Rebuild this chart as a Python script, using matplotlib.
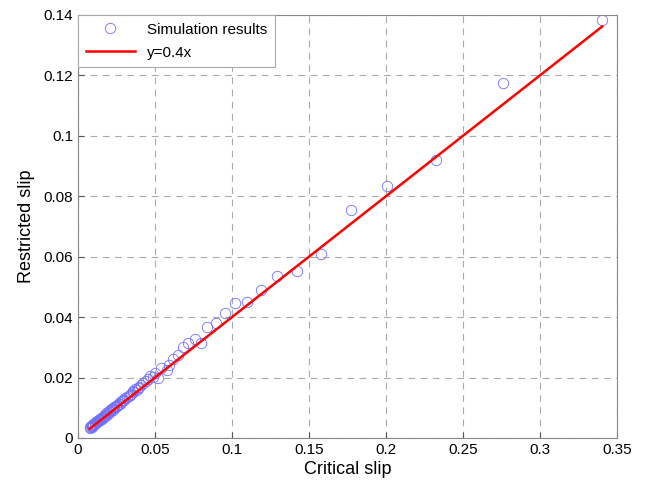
import matplotlib
matplotlib.use('Agg')
import numpy as np
import matplotlib.pyplot as plt

plt.rcParams['font.family'] = ['Liberation Sans', 'DejaVu Sans']

# simulation results
critical_slip = [0.0075, 0.0080, 0.0085, 0.0090, 0.0095, 0.0100, 0.0108, 0.0115, 0.0122,
                 0.0130, 0.0137, 0.0145, 0.0152, 0.0160, 0.0168, 0.0176, 0.0185, 0.0193,
                 0.0200, 0.0210, 0.0218, 0.0226, 0.0235, 0.0245, 0.0255, 0.0265, 0.0275,
                 0.0285, 0.0295, 0.0305, 0.0318, 0.0330, 0.0342, 0.0355, 0.0368, 0.0380,
                 0.0395, 0.0410, 0.0425, 0.0440, 0.0455, 0.0470, 0.0485, 0.0500, 0.0520,
                 0.0540, 0.0575, 0.0590, 0.0615, 0.0650, 0.0680, 0.0713, 0.0760, 0.0800,
                 0.0837, 0.0895, 0.0953, 0.1020, 0.1100, 0.1187, 0.1290, 0.1420, 0.1576,
                 0.1770, 0.2010, 0.2328, 0.2760, 0.3405,
                 0.0088, 0.0098, 0.0112, 0.0126, 0.0141, 0.0156, 0.0172, 0.0190, 0.0207,
                 0.0230, 0.0250, 0.0270, 0.0300, 0.0335, 0.0360, 0.0390]
restricted_slip = [0.0033, 0.0036, 0.0038, 0.0041, 0.0043, 0.0046, 0.0049, 0.0052, 0.0055,
                   0.0057, 0.0061, 0.0064, 0.0066, 0.0070, 0.0073, 0.0077, 0.0081, 0.0083,
                   0.0088, 0.0091, 0.0095, 0.0098, 0.0101, 0.0106, 0.0110, 0.0114, 0.0118,
                   0.0121, 0.0127, 0.0131, 0.0137, 0.0140, 0.0147, 0.0152, 0.0161, 0.0160,
                   0.0170, 0.0174, 0.0182, 0.0189, 0.0195, 0.0205, 0.0201, 0.0215, 0.0198,
                   0.0233, 0.0226, 0.0240, 0.0261, 0.0275, 0.0300, 0.0314, 0.0328, 0.0314,
                   0.0367, 0.0380, 0.0414, 0.0447, 0.0450, 0.0490, 0.0536, 0.0553, 0.0609,
                   0.0755, 0.0834, 0.0920, 0.1175, 0.1384,
                   0.0035, 0.0042, 0.0047, 0.0053, 0.0059, 0.0063, 0.0069, 0.0076, 0.0086,
                   0.0094, 0.0103, 0.0113, 0.0125, 0.0143, 0.0154, 0.0165]
slope = 0.4

xticks = [0, 0.05, 0.1, 0.15, 0.2, 0.25, 0.3, 0.35]
xticklabels = ['0', '0.05', '0.1', '0.15', '0.2', '0.25', '0.3', '0.35']
yticks = [0, 0.02, 0.04, 0.06, 0.08, 0.1, 0.12, 0.14]
yticklabels = ['0', '0.02', '0.04', '0.06', '0.08', '0.1', '0.12', '0.14']

fig = plt.figure(figsize=(6.5, 4.91), dpi=100)
ax = fig.add_axes([0.12, 0.108, 0.829, 0.8615])

ax.plot(critical_slip, restricted_slip, 'o', linestyle='none', markersize=7.5,
        markerfacecolor='none', markeredgecolor='#7070ff', markeredgewidth=0.6,
        label='Simulation results')
xl = np.array([min(critical_slip), max(critical_slip)])
ax.plot(xl, slope * xl, '-', color='red', linewidth=1.8, label='y=0.4x')

ax.set_xlim(0, 0.35)
ax.set_ylim(0, 0.14)
ax.set_xticks(xticks)
ax.set_xticklabels(xticklabels)
ax.set_yticks(yticks)
ax.set_yticklabels(yticklabels)
ax.tick_params(direction='in', labelsize=11, length=4, color='#555555')
ax.grid(True, linestyle=(0, (6, 5)), color='#aaaaaa', linewidth=0.8)
for s in ax.spines.values():
    s.set_color('#888888')

ax.set_xlabel('Critical slip', fontsize=13, labelpad=3)
ax.set_ylabel('Restricted slip', fontsize=13, labelpad=6)

leg = ax.legend(loc='upper left', fontsize=11, fancybox=False, framealpha=1,
                edgecolor='#aaaaaa', borderaxespad=0.0, handlelength=3.2,
                borderpad=0.5, labelspacing=0.6)
leg.get_frame().set_linewidth(0.8)

fig.savefig('out.png', dpi=100)
